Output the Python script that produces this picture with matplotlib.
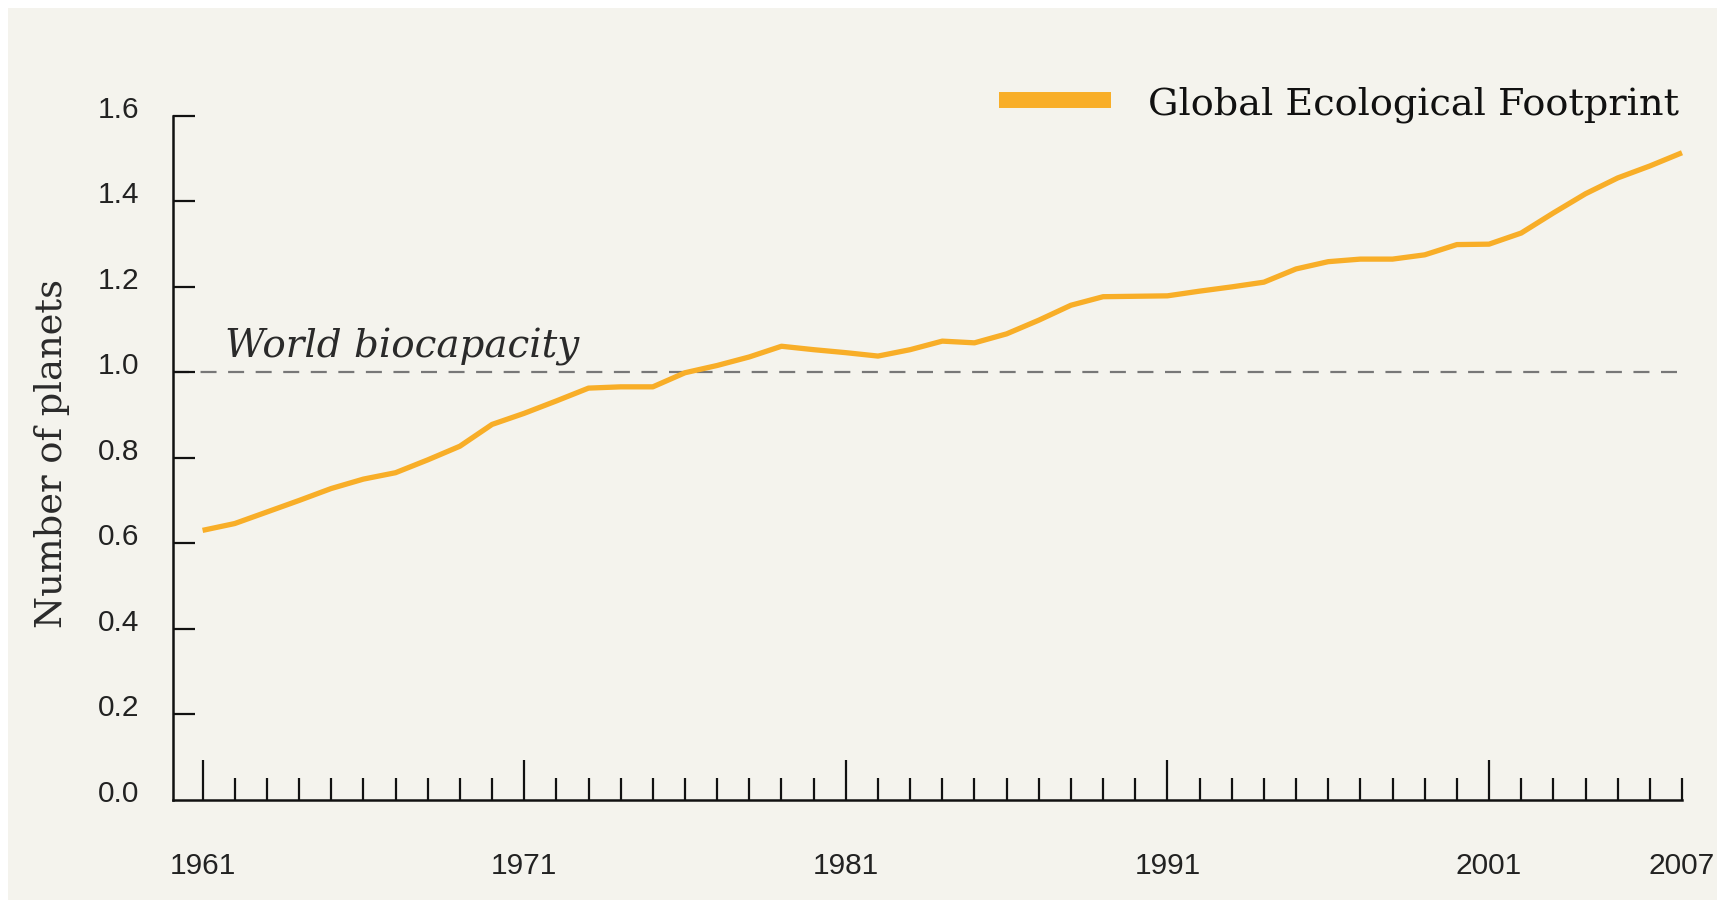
import numpy as np
import matplotlib.pyplot as plt
import matplotlib.transforms as mtransforms
from matplotlib.patches import Rectangle
from matplotlib.lines import Line2D

# Global Ecological Footprint, number of planets
years = list(range(1961, 2008))
footprint = [
    0.630, 0.646, 0.673, 0.700, 0.728, 0.750, 0.765, 0.795, 0.827, 0.878,
    0.904, 0.933, 0.963, 0.966, 0.966, 0.999, 1.016, 1.036, 1.061, 1.053,
    1.046, 1.038, 1.053, 1.073, 1.069, 1.090, 1.122, 1.157, 1.177, 1.178,
    1.179, 1.190, 1.200, 1.211, 1.242, 1.259, 1.265, 1.265, 1.275, 1.299,
    1.300, 1.326, 1.373, 1.418, 1.455, 1.483, 1.514,
]
biocapacity = 1.0
labeled_years = [1961, 1971, 1981, 1991, 2001, 2007]
y_ticks = [0.2, 0.4, 0.6, 0.8, 1.0, 1.2, 1.4, 1.6]

W, H = 1717, 903
fig = plt.figure(figsize=(W / 100, H / 100), dpi=100, facecolor="white")

# beige panel behind the chart
fig.patches.append(Rectangle((8 / W, 2 / H), 1, 1 - 11 / H, transform=fig.transFigure,
                             facecolor="#f4f3ed", edgecolor="none", zorder=-10))

ax = fig.add_axes([173 / W, 1 - 800.5 / H, (1682 - 173) / W, (800.5 - 117) / H])
ax.set_facecolor("none")

orange = "#f8ae28"
ax.axhline(biocapacity, color="#777777", lw=1.6, dashes=(7.2, 5.2), zorder=1)
ax.plot(years, footprint, color=orange, lw=3.8, zorder=3, clip_on=False,
        solid_capstyle="butt", solid_joinstyle="round")

ax.set_xlim(1960.08, 2007.0)
ax.set_ylim(0, 1.6)

for s in ["top", "right"]:
    ax.spines[s].set_visible(False)
for s in ["left", "bottom"]:
    ax.spines[s].set_linewidth(1.8)
    ax.spines[s].set_color("#111111")

# x ticks: yearly minor, decade majors pointing up
ax.set_xticks(labeled_years)
ax.set_xticklabels([str(y) for y in labeled_years])
ax.set_xticks([y for y in years if y not in labeled_years], minor=True)
ax.tick_params(axis="x", which="major", direction="in", length=28.8, width=1.6,
               color="#111111", pad=37, labelsize=21.5, labelcolor="#222222")
ax.tick_params(axis="x", which="minor", direction="in", length=15.8, width=1.6,
               color="#111111")
ax.xaxis.get_major_ticks()[-1].tick1line.set_markersize(15.8)

# y ticks pointing right, labels nudged up
ax.set_yticks([0.0] + y_ticks)
ax.set_yticklabels(["%.1f" % v for v in [0.0] + y_ticks])
ax.tick_params(axis="y", direction="in", length=15.8, width=1.6, color="#111111",
               pad=24, labelsize=21.5, labelcolor="#222222")
ax.yaxis.get_major_ticks()[0].tick1line.set_visible(False)
shift = mtransforms.ScaledTranslation(0, 10 / 100, fig.dpi_scale_trans)
for lab in ax.get_yticklabels():
    lab.set_transform(lab.get_transform() + shift)

for lab in ax.get_xticklabels() + ax.get_yticklabels():
    lab.set_fontfamily("Liberation Sans")

fig.text(52 / W, 1 - 454 / H, "Number of planets", rotation=90, ha="center", va="center",
         fontsize=26.5, family="DejaVu Serif", color="#2a2a2a")

ax.text(1961.7, 1.037, "World biocapacity", fontsize=28, family="DejaVu Serif",
        style="italic", color="#2a2a2a", va="baseline", ha="left")

handle = Line2D([], [], color=orange, lw=11.5, solid_capstyle="butt")
leg = ax.legend([handle], ["Global Ecological Footprint"], loc="center left",
                bbox_to_anchor=(999 / W, 1 - 105 / H), bbox_transform=fig.transFigure,
                frameon=False, borderpad=0, borderaxespad=0, handlelength=80.6 / 27.5,
                handletextpad=26.6 / 27.5, prop={"family": "DejaVu Serif", "size": 27.5})
for t in leg.get_texts():
    t.set_color("#111111")

fig.savefig("out.png", dpi=100, facecolor="white")
